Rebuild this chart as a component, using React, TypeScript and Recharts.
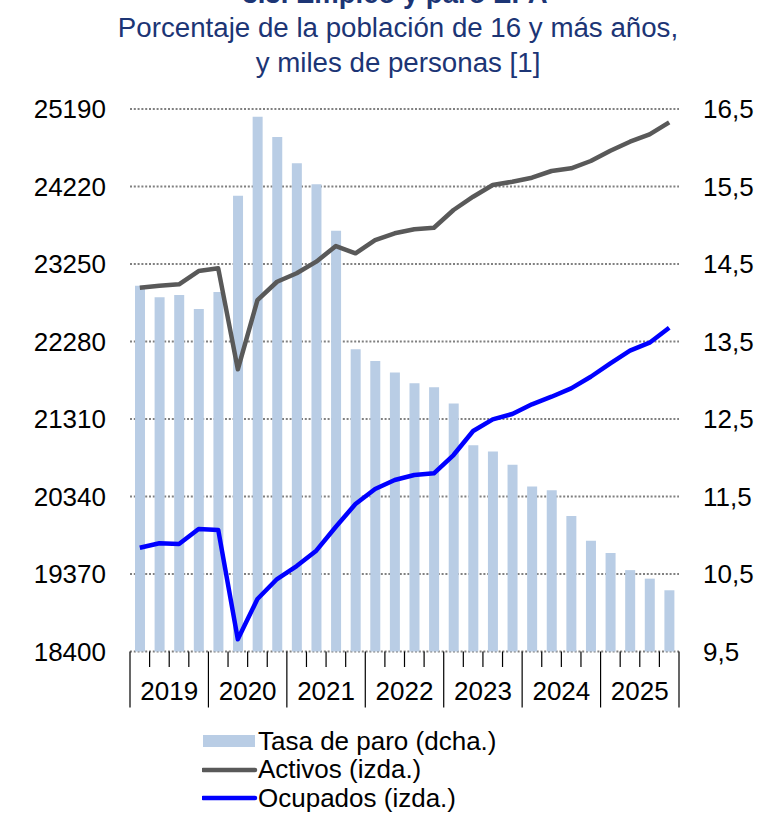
import React from "react"
import { Bar, ComposedChart, Line, XAxis, YAxis, CartesianGrid } from "recharts"

// quarters 2019T1 .. 2025T4
const years = ["2019", "2020", "2021", "2022", "2023", "2024", "2025"]
const quarters = years.flatMap((y) => ["T1", "T2", "T3", "T4"].map((q) => `${y}${q}`))

// Tasa de paro (%), right axis
const paro = [
  14.22, 14.07, 14.1, 13.92, 14.14, 15.38, 16.4, 16.14, 15.8, 15.53, 14.93, 13.4, 13.25, 13.1,
  12.96, 12.91, 12.7, 12.16, 12.08, 11.91, 11.63, 11.58, 11.25, 10.93, 10.77, 10.55, 10.44, 10.29,
]

// Activos (miles), left axis
const activos = [
  22953, 22978, 22996, 23162, 23196, 21932, 22799, 23028, 23134, 23279, 23475, 23384, 23550, 23634,
  23684, 23704, 23926, 24092, 24239, 24280, 24330, 24414, 24448, 24539, 24668, 24781, 24873, 25023,
]

// Ocupados (miles), left axis
const ocupados = [
  19699, 19754, 19745, 19933, 19921, 18553, 19057, 19307, 19470, 19662, 19962, 20246, 20434, 20546,
  20609, 20630, 20859, 21160, 21306, 21373, 21494, 21589, 21694, 21839, 22007, 22165, 22265, 22453,
]

const leftTicks = [18400, 19370, 20340, 21310, 22280, 23250, 24220, 25190]
const rightTicks = [9.5, 10.5, 11.5, 12.5, 13.5, 14.5, 15.5, 16.5]

const data = quarters.map((q, i) => ({
  q,
  paro: paro[i],
  activos: activos[i],
  ocupados: ocupados[i],
}))

const FONT = '"Liberation Sans", Arial, sans-serif'
const NAVY = "#1c3575"
const BAR = "#b9cde5"
const GREY_LINE = "#595959"
const BLUE_LINE = "#0000ff"
const FS = 26

const W = 762
const H = 813
const MARGIN = { top: 109, right: 10, bottom: 105.5, left: 10 }
const LEFT_W = 120
const RIGHT_W = 73
const PLOT_W = W - MARGIN.left - MARGIN.right - LEFT_W - RIGHT_W

const legendItems = [
  { label: "Tasa de paro (dcha.)", kind: "bar", color: BAR },
  { label: "Activos (izda.)", kind: "line", color: GREY_LINE },
  { label: "Ocupados (izda.)", kind: "line", color: BLUE_LINE },
]

function XTick(props: any) {
  const { x, y, index } = props
  const step = PLOT_W / quarters.length
  const right = x + step / 2
  const left = x - step / 2
  const endOfYear = index % 4 === 3
  return (
    <g>
      {index === 0 && <line x1={left} x2={left} y1={y} y2={y + 56} stroke="#000" strokeWidth={1.2} />}
      <line x1={right} x2={right} y1={y} y2={y + (endOfYear ? 56 : 15.5)} stroke="#000" strokeWidth={1.2} />
      {index % 4 === 1 && (
        <text x={right} y={y + 48} textAnchor="middle" fontSize={FS} fontFamily={FONT} fill="#000">
          {years[Math.floor(index / 4)]}
        </text>
      )}
    </g>
  )
}

export default function App() {
  return (
    <div style={{ position: "absolute", left: 0, top: 0, width: W, height: H, background: "#fff", overflow: "hidden", fontFamily: FONT }}>
      <div
        style={{
          position: "absolute",
          left: 0,
          top: -24.5,
          width: 790,
          textAlign: "center",
          fontSize: 27.5,
          lineHeight: "35px",
          fontWeight: "bold",
          color: NAVY,
        }}
      >
        3.3. Empleo y paro EPA
      </div>
      <div
        style={{
          position: "absolute",
          left: 0,
          top: 10.3,
          width: 796,
          textAlign: "center",
          fontSize: 27.7,
          lineHeight: "35px",
          color: NAVY,
        }}
      >
        Porcentaje de la población de 16 y más años,
        <br />y miles de personas [1]
      </div>

      <div style={{ position: "absolute", left: 0, top: 0 }}>
        <ComposedChart width={W} height={H} data={data} margin={MARGIN} barSize={10}>
          <CartesianGrid
            yAxisId="left"
            vertical={false}
            stroke="#808080"
            strokeWidth={2}
            strokeDasharray="2 1.8"
          />
          <XAxis
            dataKey="q"
            height={56}
            axisLine={false}
            tickLine={false}
            tickSize={0}
            tickMargin={0}
            interval={0}
            tick={XTick}
          />
          <YAxis
            yAxisId="left"
            orientation="left"
            width={LEFT_W}
            domain={[18400, 25190]}
            ticks={leftTicks}
            axisLine={false}
            tickLine={false}
            tickSize={0}
            tickMargin={24}
            tick={{ fontSize: FS, fill: "#000", fontFamily: FONT }}
          />
          <YAxis
            yAxisId="right"
            orientation="right"
            width={RIGHT_W}
            domain={[9.5, 16.5]}
            ticks={rightTicks}
            axisLine={false}
            tickLine={false}
            tickSize={0}
            tickMargin={24}
            tickFormatter={(v: number) => v.toFixed(1).replace(".", ",")}
            tick={{ fontSize: FS, fill: "#000", fontFamily: FONT, textAnchor: "start" }}
          />
          <Bar yAxisId="right" dataKey="paro" fill={BAR} isAnimationActive={false} />
          <Line
            yAxisId="left"
            dataKey="activos"
            type="linear"
            stroke={GREY_LINE}
            strokeWidth={4.5}
            dot={false}
            activeDot={false}
            strokeLinejoin="round"
            isAnimationActive={false}
          />
          <Line
            yAxisId="left"
            dataKey="ocupados"
            type="linear"
            stroke={BLUE_LINE}
            strokeWidth={4.5}
            dot={false}
            activeDot={false}
            strokeLinejoin="round"
            isAnimationActive={false}
          />
        </ComposedChart>
      </div>

      <div style={{ position: "absolute", left: 202, top: 727 }}>
        {legendItems.map((it) => (
          <div key={it.label} style={{ display: "flex", alignItems: "center", height: 28.5, fontSize: FS, color: "#000" }}>
            <svg width={56} height={20} style={{ display: "block" }}>
              {it.kind === "bar" ? (
                <rect x={1} y={4} width={52} height={12} fill={it.color} />
              ) : (
                <line x1={1} x2={53} y1={10} y2={10} stroke={it.color} strokeWidth={4.5} strokeLinecap="round" />
              )}
            </svg>
            <span>{it.label}</span>
          </div>
        ))}
      </div>
    </div>
  )
}
